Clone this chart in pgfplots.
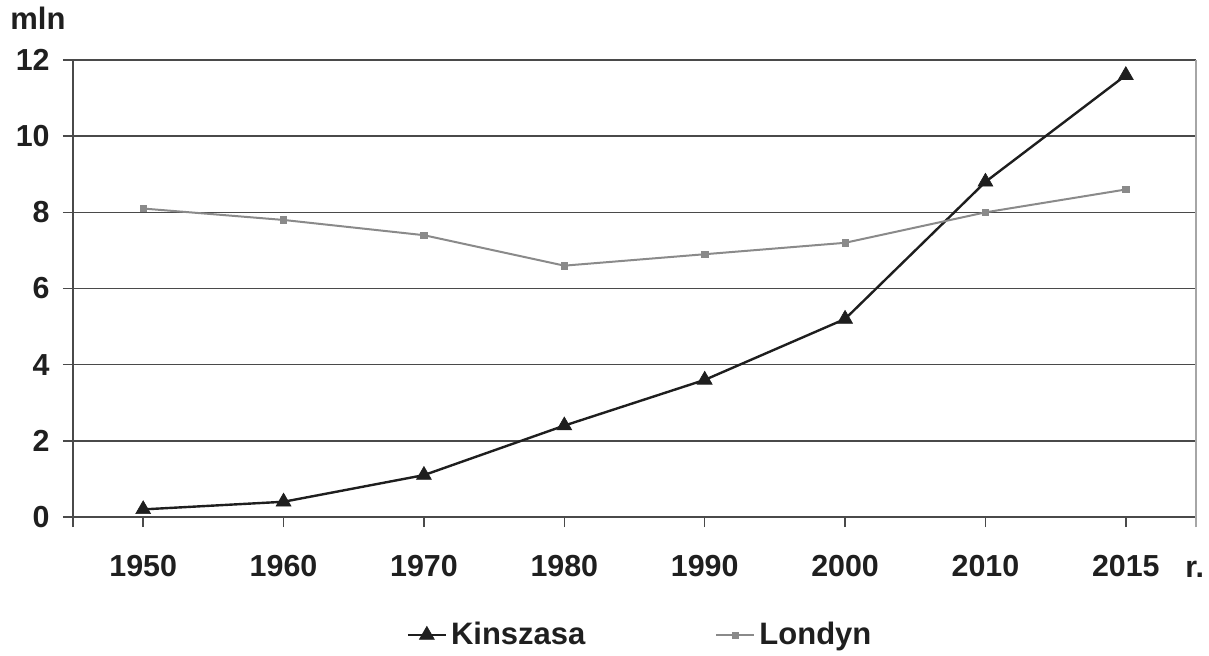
\documentclass[border=0pt]{standalone}
\usepackage{fontspec}
\setmainfont{Liberation Sans}
\usepackage{pgfplots}
\pgfplotsset{compat=1.18}
\definecolor{kcol}{HTML}{1E1E1E}
\definecolor{lcol}{HTML}{8A8A8A}
\definecolor{gridc}{HTML}{4A4A4A}
\begin{document}
\begin{tikzpicture}
\begin{axis}[
  name=ax,
  scale only axis, width=561.5pt, height=228.5pt,
  xmin=-0.5, xmax=7.5, ymin=0, ymax=12,
  clip=false,
  axis x line*=bottom, axis y line*=left,
  axis line style={draw=gridc, line width=0.75pt, -},
  xtick={0,...,7},
  xticklabels={1950,1960,1970,1980,1990,2000,2010,2015},
  extra x ticks={-0.5,7.5}, extra x tick labels={},
  ytick={0,2,...,12},
  tick align=outside, major tick length=5pt,
  tick style={draw=gridc, line width=0.75pt},
  ymajorgrids, grid style={draw=gridc, line width=0.75pt},
  ticklabel style={font=\fontsize{15.2}{18}\selectfont\bfseries, text=black!88},
  /pgf/number format/assume math mode=true,
  xticklabel style={anchor=north, inner sep=0pt, yshift=-14pt},
  yticklabel style={anchor=east, inner sep=0pt, xshift=-6.5pt},
  legend columns=2,
  legend style={draw=none, fill=none, at={(0.5058,-0.2582)}, anchor=center,
    font=\fontsize{15.5}{18}\selectfont\bfseries, text=black!88,
    /tikz/every even column/.append style={column sep=63pt}},
  legend image code/.code={
    \draw[#1, mark repeat=2, mark phase=2] plot coordinates {(0pt,0pt) (9.5pt,0pt) (19pt,0pt)};
  },
]
\addplot[color=kcol, line width=1.2pt, mark=triangle*, mark size=4.3pt,
  mark options={solid, line width=0.3pt}]
  coordinates {(0,0.2) (1,0.4) (2,1.1) (3,2.4) (4,3.6) (5,5.2) (6,8.8) (7,11.6)};
\addlegendentry{Kinszasa}
\addplot[color=lcol, line width=1pt, mark=square*, mark size=1.6pt,
  mark options={solid, line width=0.3pt}]
  coordinates {(0,8.1) (1,7.8) (2,7.4) (3,6.6) (4,6.9) (5,7.2) (6,8.0) (7,8.6)};
\addlegendentry{Londyn}
\end{axis}
\draw[black!35, line width=0.75pt] (ax.north east) -- (ax.south east) -- ++(0,-5pt);
\node[anchor=base west, inner sep=0pt, font=\fontsize{15.5}{18}\selectfont\bfseries, text=black!88]
  at ([shift={(-31.5pt,15pt)}]ax.north west) {mln};
\node[anchor=base west, inner sep=0pt, font=\fontsize{15.2}{18}\selectfont\bfseries, text=black!88]
  at ([shift={(556pt,-30pt)}]ax.south west) {r.};
\path ([shift={(-36.5pt,-68pt)}]ax.south west) rectangle ([shift={(6.5pt,30pt)}]ax.north east);
\end{tikzpicture}
\end{document}
